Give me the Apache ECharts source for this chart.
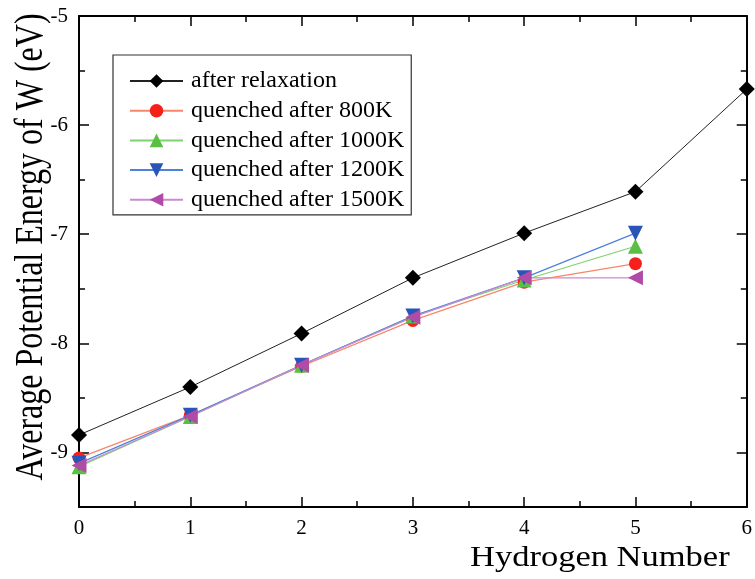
<!DOCTYPE html>
<html>
<head>
<meta charset="utf-8">
<script src="https://cdn.jsdelivr.net/npm/echarts@6/dist/echarts.min.js"></script>
<style>
html,body{margin:0;padding:0;background:#fff;}
#chart{width:755px;height:579px;}
</style>
</head>
<body>
<div id="chart"></div>
<script>
var hydrogen = [0, 1, 2, 3, 4, 5, 6];
var afterRelaxation = [-8.84, -8.40, -7.91, -7.40, -6.99, -6.61, -5.67];
var quenched800 = [-9.05, -8.66, -8.21, -7.79, -7.44, -7.27];
var quenched1000 = [-9.13, -8.67, -8.20, -7.75, -7.42, -7.11];
var quenched1200 = [-9.10, -8.66, -8.20, -7.75, -7.40, -6.99];
var quenched1500 = [-9.12, -8.67, -8.20, -7.76, -7.40, -7.40];
var seriesNames = ['after relaxation', 'quenched after 800K', 'quenched after 1000K', 'quenched after 1200K', 'quenched after 1500K'];

function pairs(ys){ return ys.map(function(y,i){ return [hydrogen[i], y]; }); }

var font = '"Liberation Serif", "Times New Roman", serif';
var chart = echarts.init(document.getElementById('chart'), null, {renderer:'canvas'});

function mkAxisCommon(showLabel){
  return {
    axisLine:{show:true, onZero:false, lineStyle:{color:'#000', width:2}},
    axisTick:{show:true, inside:true, length:10, lineStyle:{color:'#000', width:1.5}},
    minorTick:{show:true, splitNumber:2, length:6, lineStyle:{color:'#000', width:1.5}},
    splitLine:{show:false},
    axisLabel:{show:showLabel, color:'#000', fontFamily:font, fontSize:21, margin:11}
  };
}

var xMain = Object.assign({type:'value', min:0, max:6, interval:1, position:'bottom'}, mkAxisCommon(true));
var xTop = Object.assign({type:'value', min:0, max:6, interval:1, position:'top'}, mkAxisCommon(false));
var yMain = Object.assign({type:'value', min:-9.5, max:-5, splitNumber:4, position:'left'}, mkAxisCommon(true));
yMain.axisLabel.formatter = function(v){ return (Math.abs(v - Math.round(v)) < 1e-6) ? String(Math.round(v)) : ''; };
var yRight = Object.assign({type:'value', min:-9.5, max:-5, splitNumber:4, position:'right'}, mkAxisCommon(false));

var downTri = 'path://M0,0 L10,0 L5,9 Z';
var leftTri = 'path://M0,5 L9,0 L9,10 Z';

var option = {
  backgroundColor:'#fff',
  animation:false,
  grid:{left:79, right:6, top:16, bottom:72, containLabel:false},
  xAxis:[xMain, xTop],
  yAxis:[yMain, yRight],
  legend:{
    orient:'vertical', left:113, top:55,
    itemWidth:53, itemHeight:17, itemGap:5.7,
    padding:[14, 7, 3, 16],
    borderColor:'#333', borderWidth:1.2,
    textStyle:{color:'#000', fontFamily:font, fontSize:24, lineHeight:22, padding:[0,0,0,3]},
    data:seriesNames
  },
  graphic:[
    {type:'text', left:470, top:543, scaleX:1.15, style:{text:'Hydrogen Number', fill:'#000', font:'30px "Liberation Serif", "Times New Roman", serif'}},
    {type:'text', x:31, y:247, rotation:Math.PI/2, scaleX:0.8, style:{text:'Average Potential Energy of W (eV)', fill:'#000', font:'40px "Liberation Serif", "Times New Roman", serif', align:'center', verticalAlign:'middle'}}
  ],
  series:[
    {name:seriesNames[0], type:'line', data:pairs(afterRelaxation), symbol:'diamond', symbolSize:16,
      itemStyle:{color:'#000'}, lineStyle:{color:'#222', width:1}},
    {name:seriesNames[1], type:'line', data:pairs(quenched800), symbol:'circle', symbolSize:13,
      itemStyle:{color:'#f5201c'}, lineStyle:{color:'#f8866a', width:1.3}},
    {name:seriesNames[2], type:'line', data:pairs(quenched1000), symbol:'triangle', symbolSize:15,
      itemStyle:{color:'#5cbf45'}, lineStyle:{color:'#7ed36c', width:1.2}},
    {name:seriesNames[3], type:'line', data:pairs(quenched1200), symbol:downTri, symbolSize:15,
      itemStyle:{color:'#2a55b8'}, lineStyle:{color:'#4d82da', width:1.2}},
    {name:seriesNames[4], type:'line', data:pairs(quenched1500), symbol:leftTri, symbolSize:15,
      itemStyle:{color:'#b04ba8'}, lineStyle:{color:'#c98bd0', width:1.2}}
  ]
};
chart.setOption(option);
</script>
</body>
</html>
